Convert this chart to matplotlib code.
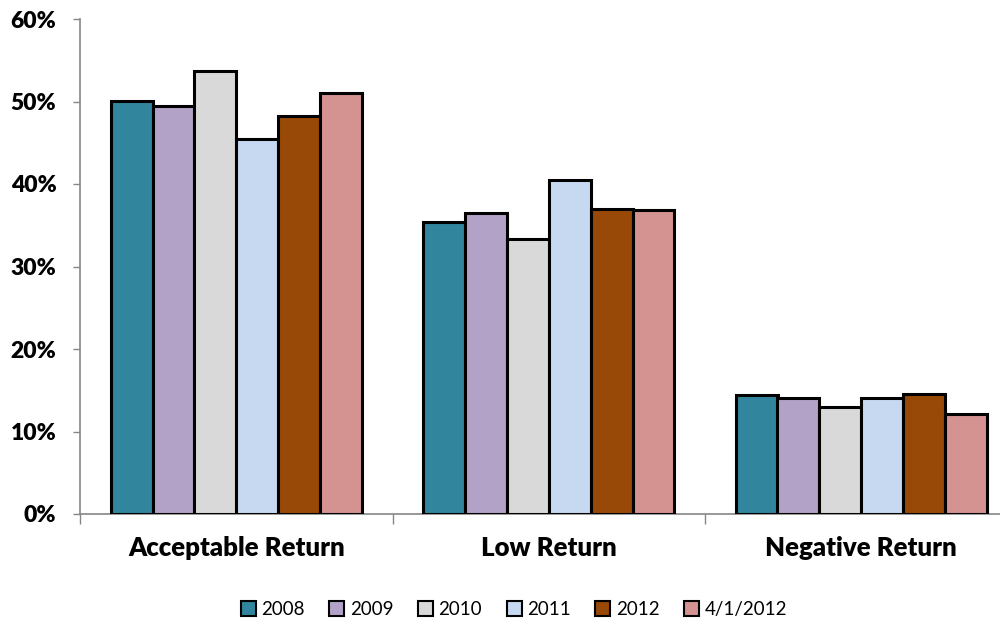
import matplotlib.pyplot as plt
import numpy as np

categories = ['Acceptable Return', 'Low Return', 'Negative Return']
series = ['2008', '2009', '2010', '2011', '2012', '4/1/2012']
values = {
    '2008':     [50.1, 35.4, 14.4],
    '2009':     [49.4, 36.5, 14.1],
    '2010':     [53.7, 33.3, 13.0],
    '2011':     [45.4, 40.5, 14.1],
    '2012':     [48.3, 37.0, 14.6],
    '4/1/2012': [51.0, 36.8, 12.1],
}
colors = ['#31859C', '#B3A2C7', '#D9D9D9', '#C6D9F1', '#984807', '#D49291']

plt.rcParams['font.family'] = ['Lato', 'DejaVu Sans']

fig = plt.figure(figsize=(10, 6.25), dpi=100)
ax = fig.add_axes([0.08, 0.1776, 0.9375, 0.792])

x = np.arange(len(categories)) + 0.5
w = 0.134
for i, s in enumerate(series):
    ax.bar(x + (i - 2.5) * w, values[s], w, color=colors[i],
           edgecolor='black', linewidth=2.2, label=s, zorder=3)

ax.set_xlim(0, 3)
ax.set_ylim(0, 60)
ax.set_yticks(np.arange(0, 61, 10))
ax.set_yticklabels(['%d%%' % v for v in range(0, 61, 10)],
                   fontsize=16.5, fontweight='heavy')
ax.set_xticks([0, 1, 2, 3])
ax.set_xticklabels([])
ax.set_xticks(x, minor=True)
ax.set_xticklabels(categories, minor=True, fontsize=18.5, fontweight='heavy')
ax.tick_params(axis='x', which='minor', length=0, pad=16)
ax.tick_params(axis='x', which='major', length=7, color='#868686', width=1)
ax.tick_params(axis='y', length=5, color='#868686', width=1, pad=12)

for side in ['top', 'right']:
    ax.spines[side].set_visible(False)
for side in ['left', 'bottom']:
    ax.spines[side].set_color('#868686')
    ax.spines[side].set_linewidth(1.2)

leg = fig.legend(loc='center', bbox_to_anchor=(0.514, 0.025), ncol=6,
                 frameon=False, fontsize=13.5, handlelength=0.8,
                 handleheight=0.8, handletextpad=0.3, columnspacing=1.3)
for h in leg.legend_handles:
    h.set_linewidth(1.5)

fig.savefig('out.png', dpi=100)
